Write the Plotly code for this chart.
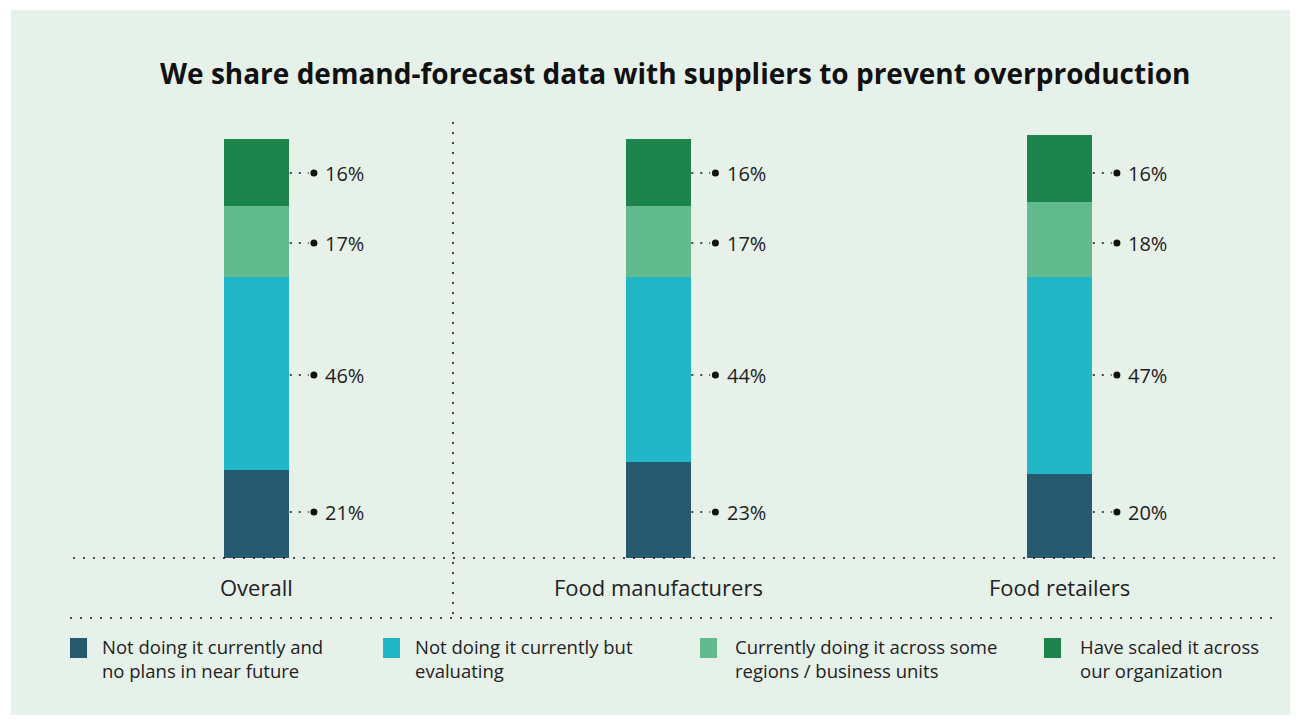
import plotly.graph_objects as go

W, H = 1298, 724
OX, OY = 8, 8  # page body margin compensation

categories = ["Overall", "Food manufacturers", "Food retailers"]
series_names = [
    ["Not doing it currently and", "no plans in near future"],
    ["Not doing it currently but", "evaluating"],
    ["Currently doing it across some", "regions / business units"],
    ["Have scaled it across", "our organization"],
]
series_colors = ["#275A6F", "#23B6C6", "#62BB8F", "#1E844D"]
values = [
    [21, 23, 20],
    [46, 44, 47],
    [17, 17, 18],
    [16, 16, 16],
]
title = "We share demand-forecast data with suppliers to prevent overproduction"

FONT = "Open Sans"
TXT = "#222222"

cx0, spacing = 256.5 - OX, 401.5
base_px, px_per = 558 - OY, 4.19
xr = [-cx0 / spacing, (W - cx0) / spacing]
yr = [-(H - base_px) / px_per, base_px / px_per]
bar_w = 65 / spacing

# label rows (pixel y of each series' label, same in every column)
label_rows_px = [512, 375, 243, 173]


def px(x):
    return (x - OX) / W


def py(y):
    return 1 - (y - OY) / H


def data_y(pix):
    return (base_px - (pix - OY)) / px_per


fig = go.Figure()
xs = list(range(len(categories)))
for name, col, vals in zip(series_names, series_colors, values):
    fig.add_trace(go.Bar(x=xs, y=vals, name=" ".join(name), marker=dict(color=col, line=dict(width=0)),
                         width=bar_w, showlegend=False, hoverinfo="skip"))

shapes = []
annotations = []
shapes.append(dict(type="rect", xref="paper", yref="paper", x0=px(11), x1=px(1290), y0=py(715), y1=py(10),
                   fillcolor="#E6F1EA", line=dict(width=0), layer="below"))

dot_x, dot_y = [], []
for i in xs:
    for s, vals in enumerate(values):
        v = vals[i]
        yy = data_y(label_rows_px[s])
        shapes.append(dict(type="line", xref="x", yref="y", x0=i + bar_w / 2 + 0.002, x1=i + 0.13, y0=yy, y1=yy,
                           line=dict(color="#111111", width=1.5, dash="2px,7px")))
        dot_x.append(i + 0.143)
        dot_y.append(yy)
        annotations.append(dict(x=i + 0.166, y=yy, xref="x", yref="y", text=f"{v}%", showarrow=False,
                                xanchor="left", yanchor="middle", font=dict(family=FONT, size=20, color=TXT)))
fig.add_trace(go.Scatter(x=dot_x, y=dot_y, mode="markers", marker=dict(color="#111111", size=7),
                         showlegend=False, hoverinfo="skip"))

for i, c in enumerate(categories):
    annotations.append(dict(x=i, y=py(587), xref="x", yref="paper", text=c, showarrow=False,
                            xanchor="center", yanchor="middle", font=dict(family=FONT, size=22, color=TXT)))

dot_style = dict(color="#111111", width=1.5, dash="2px,8px")
shapes.append(dict(type="line", xref="paper", yref="paper", x0=px(73), x1=px(1276), y0=py(558), y1=py(558), line=dot_style))
shapes.append(dict(type="line", xref="paper", yref="paper", x0=px(70), x1=px(1280), y0=py(618), y1=py(618), line=dot_style))
shapes.append(dict(type="line", xref="paper", yref="paper", x0=px(453), x1=px(453), y0=py(122), y1=py(616), line=dot_style))

annotations.append(dict(x=px(675), y=py(73), xref="paper", yref="paper", text="<b>" + title + "</b>", showarrow=False,
                        xanchor="center", yanchor="middle", font=dict(family=FONT, size=28, color="#111111")))

leg_sq_x = [70, 383, 700, 1044]
leg_txt_x = [102, 415, 735, 1080]
for lines, col, sx, tx in zip(series_names, series_colors, leg_sq_x, leg_txt_x):
    shapes.append(dict(type="rect", xref="paper", yref="paper", x0=px(sx), x1=px(sx + 17), y0=py(658), y1=py(638),
                       fillcolor=col, line=dict(width=0)))
    annotations.append(dict(x=px(tx - 2), y=py(658), xref="paper", yref="paper", text="<br>".join(lines),
                            showarrow=False, xanchor="left", yanchor="middle", align="left",
                            font=dict(family=FONT, size=18.5, color=TXT)))

fig.update_layout(
    width=W, height=H, barmode="stack", bargap=0,
    paper_bgcolor="white", plot_bgcolor="rgba(0,0,0,0)",
    margin=dict(l=0, r=0, t=0, b=0),
    xaxis=dict(range=xr, visible=False, fixedrange=True),
    yaxis=dict(range=yr, visible=False, fixedrange=True),
    shapes=shapes, annotations=annotations,
)
fig.write_html("out.html")
